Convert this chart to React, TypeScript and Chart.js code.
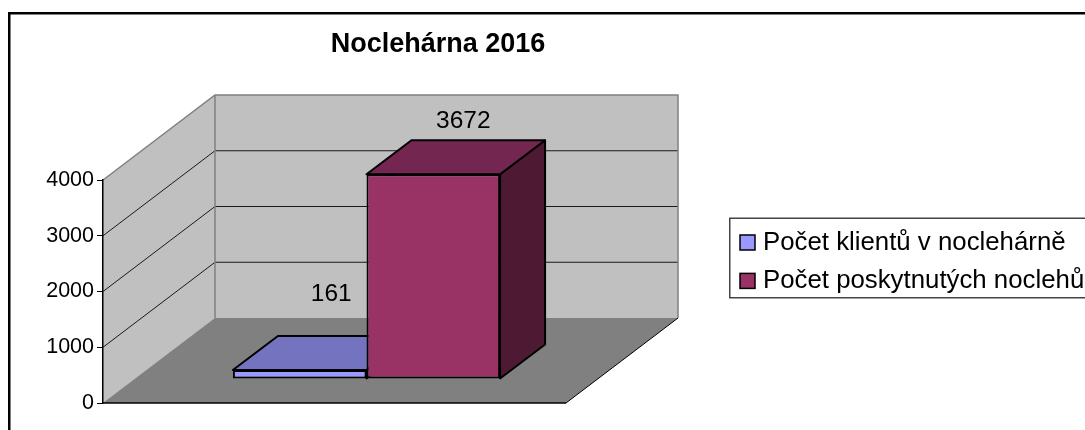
import { useEffect, useRef } from "react";
import { Chart, registerables } from "chart.js";

Chart.register(...registerables);

const categories = [""];
const seriesNames = ["Počet klientů v noclehárně", "Počet poskytnutých noclehů"];
const clientCounts = [161];
const nightCounts = [3672];
const yTicks = [0, 1000, 2000, 3000, 4000];
const chartTitle = "Noclehárna 2016";

const FONT = '"Liberation Sans", Arial, sans-serif';
const WALL = "#C0C0C0";
const FLOOR = "#808080";
const DEPTH_X = 112;
const DEPTH_Y = 85;
const BAR_SHIFT_X = 32;
const BAR_SHIFT_Y = 24;
const BAR_DX = 45;
const BAR_DY = 34;
const frontColors = ["#9999FF", "#993366"];
const topColors = ["#7373BF", "#732650"];
const sideColors = ["#7373BF", "#4D1933"];
const labelOffsets = [
  [31.5, -75.5],
  [30, -53.5],
];

const scene = {
  id: "scene",
  beforeDraw(chart: any) {
    const { ctx, chartArea: a } = chart;
    const y = chart.scales.y;
    ctx.save();
    ctx.fillStyle = "#fff";
    ctx.fillRect(0, 0, chart.width, chart.height);
    ctx.fillStyle = "#000";
    ctx.fillRect(8, 12, 1077, 2.5);
    ctx.fillRect(8, 12, 2.5, 418);
    const t = a.top, b = a.bottom, l = a.left, r = a.right;
    ctx.fillStyle = WALL;
    ctx.beginPath();
    ctx.moveTo(l, t);
    ctx.lineTo(l + DEPTH_X, t - DEPTH_Y);
    ctx.lineTo(r + DEPTH_X, t - DEPTH_Y);
    ctx.lineTo(r + DEPTH_X, b - DEPTH_Y);
    ctx.lineTo(l, b);
    ctx.closePath();
    ctx.fill();
    ctx.fillStyle = FLOOR;
    ctx.beginPath();
    ctx.moveTo(l, b);
    ctx.lineTo(r, b);
    ctx.lineTo(r + DEPTH_X, b - DEPTH_Y);
    ctx.lineTo(l + DEPTH_X, b - DEPTH_Y);
    ctx.closePath();
    ctx.fill();
    ctx.strokeStyle = "#1a1a1a";
    ctx.lineWidth = 1;
    for (const v of yTicks.slice(1, -1)) {
      const py = y.getPixelForValue(v);
      ctx.beginPath();
      ctx.moveTo(l, py);
      ctx.lineTo(l + DEPTH_X, py - DEPTH_Y);
      ctx.lineTo(r + DEPTH_X, py - DEPTH_Y);
      ctx.stroke();
    }
    ctx.strokeStyle = "#808080";
    ctx.lineWidth = 1.5;
    ctx.beginPath();
    ctx.moveTo(l, t);
    ctx.lineTo(l + DEPTH_X, t - DEPTH_Y);
    ctx.lineTo(r + DEPTH_X, t - DEPTH_Y);
    ctx.lineTo(r + DEPTH_X, b - DEPTH_Y);
    ctx.moveTo(l + DEPTH_X, t - DEPTH_Y);
    ctx.lineTo(l + DEPTH_X, b - DEPTH_Y);
    ctx.stroke();
    ctx.strokeStyle = "#000";
    ctx.lineWidth = 1;
    ctx.beginPath();
    ctx.moveTo(r, b);
    ctx.lineTo(r + DEPTH_X, b - DEPTH_Y);
    ctx.stroke();
    ctx.lineWidth = 1.5;
    ctx.beginPath();
    ctx.moveTo(l, b);
    ctx.lineTo(r, b);
    ctx.stroke();
    ctx.strokeStyle = "#444";
    ctx.lineWidth = 1.5;
    ctx.strokeRect(729.75, 218.25, 400, 79.5);
    ctx.restore();
  },
  afterLayout(chart: any) {
    const title = chart.titleBlock;
    title.left = 0;
    title.right = 876;
    title.width = 876;
    title.top = 28;
    title.bottom = 28 + title.height;
    const legend = chart.legend;
    const w = legend.width, h = legend.height;
    legend.left = 727.5;
    legend.right = 727.5 + w;
    legend.top = 217;
    legend.bottom = 217 + h;
    legend.adjustHitBoxes?.();
  },
  beforeDatasetsDraw(chart: any) {
    const { ctx } = chart;
    chart.data.datasets.forEach((_: any, i: number) => {
      const meta = chart.getDatasetMeta(i);
      const el = meta.data[0];
      const x0 = el.x - el.width / 2 + BAR_SHIFT_X;
      const x1 = el.x + el.width / 2 + BAR_SHIFT_X;
      const top = el.y - BAR_SHIFT_Y;
      const bot = el.base - BAR_SHIFT_Y;
      ctx.save();
      ctx.strokeStyle = "#000";
      ctx.lineWidth = 2;
      ctx.lineJoin = "round";
      ctx.fillStyle = sideColors[i];
      ctx.beginPath();
      ctx.moveTo(x1, top);
      ctx.lineTo(x1 + BAR_DX, top - BAR_DY);
      ctx.lineTo(x1 + BAR_DX, bot - BAR_DY);
      ctx.lineTo(x1, bot);
      ctx.closePath();
      ctx.fill();
      ctx.stroke();
      ctx.fillStyle = topColors[i];
      ctx.beginPath();
      ctx.moveTo(x0, top);
      ctx.lineTo(x0 + BAR_DX, top - BAR_DY);
      ctx.lineTo(x1 + BAR_DX, top - BAR_DY);
      ctx.lineTo(x1, top);
      ctx.closePath();
      ctx.fill();
      ctx.stroke();
      ctx.translate(BAR_SHIFT_X, -BAR_SHIFT_Y);
      meta.controller.draw();
      ctx.restore();
    });
    ctx.save();
    ctx.fillStyle = "#000";
    ctx.font = `24.5px ${FONT}`;
    ctx.textAlign = "center";
    ctx.textBaseline = "middle";
    chart.data.datasets.forEach((ds: any, i: number) => {
      const el = chart.getDatasetMeta(i).data[0];
      ctx.fillText(
        String(ds.data[0]),
        el.x + BAR_SHIFT_X + labelOffsets[i][0],
        el.y - BAR_SHIFT_Y + labelOffsets[i][1]
      );
    });
    ctx.restore();
    return false;
  },
  afterDraw(chart: any) {
    const { ctx } = chart;
    const boxes = chart.legend.legendHitBoxes;
    ctx.save();
    ctx.strokeStyle = "#000";
    ctx.lineWidth = 1.5;
    boxes.forEach((hb: any, i: number) => {
      const cy = hb.top + hb.height / 2;
      ctx.fillStyle = frontColors[i];
      ctx.fillRect(740, cy - 7.5, 15, 15);
      ctx.strokeRect(740, cy - 7.5, 15, 15);
    });
    ctx.restore();
  },
};

export default function App() {
  const ref = useRef<HTMLCanvasElement>(null);
  useEffect(() => {
    const chart = new Chart(ref.current!, {
      type: "bar",
      data: {
        labels: categories,
        datasets: [
          {
            label: seriesNames[0],
            data: clientCounts,
            backgroundColor: frontColors[0],
            borderColor: "#000",
            borderWidth: 2,
            borderSkipped: false,
          },
          {
            label: seriesNames[1],
            data: nightCounts,
            backgroundColor: frontColors[1],
            borderColor: "#000",
            borderWidth: 2,
            borderSkipped: false,
          },
        ],
      } as any,
      options: {
        animation: false,
        responsive: false,
        layout: { padding: { top: 147.6, right: 519, bottom: 27, left: 0 } },
        datasets: { bar: { categoryPercentage: 0.577, barPercentage: 1 } },
        plugins: {
          tooltip: { enabled: false },
          title: {
            display: true,
            text: chartTitle,
            color: "#000",
            padding: 0,
            font: { family: FONT, size: 27, weight: "bold", lineHeight: 1.2 },
          },
          legend: {
            display: true,
            position: "chartArea",
            align: "start",
            labels: {
              color: "#000",
              font: { family: FONT, size: 25.8, lineHeight: 1.2 },
              boxWidth: 10,
              boxHeight: 10,
              padding: 12.6,
              generateLabels: (c: any) =>
                c.data.datasets.map((d: any, i: number) => ({
                  text: d.label,
                  fillStyle: "rgba(0,0,0,0)",
                  strokeStyle: "rgba(0,0,0,0)",
                  lineWidth: 0,
                  datasetIndex: i,
                })),
            },
          },
        },
        scales: {
          x: { display: false, offset: true },
          y: {
            min: 0,
            max: 4000,
            afterFit: (s: any) => {
              s.width = 103;
            },
            afterBuildTicks: (s: any) => {
              s.ticks = yTicks.map((value) => ({ value }));
            },
            border: { display: true, color: "#000", width: 1.5 },
            grid: { drawOnChartArea: false, color: "#000", tickLength: 6 },
            ticks: {
              color: "#000",
              padding: 3,
              font: { family: FONT, size: 21.5 },
              callback: (v: any) => String(v),
            },
          },
        },
      } as any,
      plugins: [scene],
    });
    return () => chart.destroy();
  }, []);
  return (
    <div style={{ position: "absolute", left: 0, top: 0, width: 1085, height: 430 }}>
      <canvas ref={ref} width={1085} height={430} style={{ display: "block" }} />
    </div>
  );
}
